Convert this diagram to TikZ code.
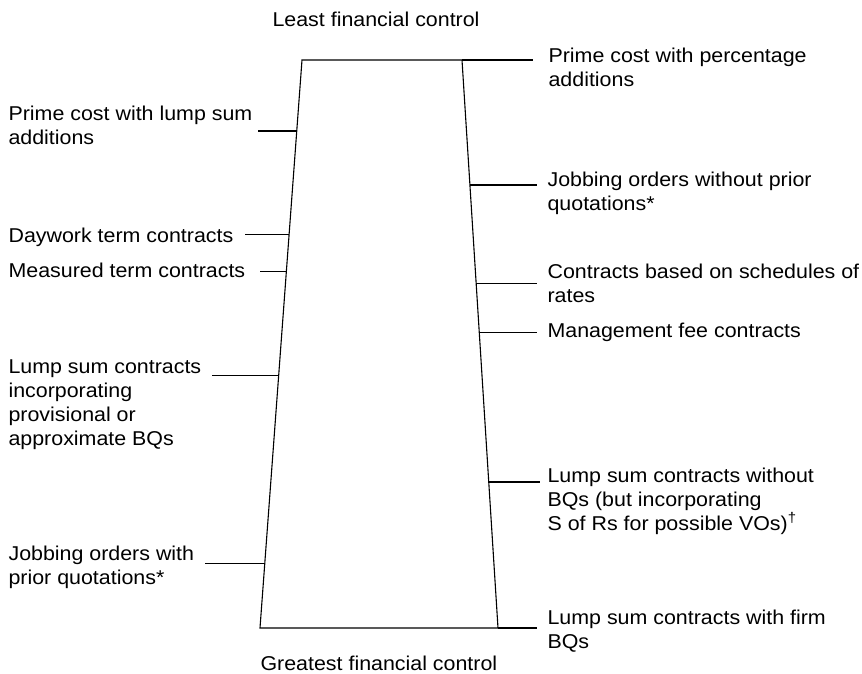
\documentclass[tikz,border=0pt]{standalone}
\usepackage{fontspec}
\setmainfont[FakeStretch=1.07]{Liberation Sans}
\usetikzlibrary{positioning,calc}

\begin{document}
\begin{tikzpicture}[x=1pt,y=-1pt,line width=1.1pt,
    lbl/.style={anchor=base west,inner sep=0pt,align=left,font=\fontsize{20}{24}\selectfont}]
    \useasboundingbox (0,0) rectangle (862,674);
    % corners of the control band
    \coordinate (TL) at (302,60);
    \coordinate (TR) at (462,60);
    \coordinate (BR) at (498,628);
    \coordinate (BL) at (260,628);
    \draw (TL) -- (TR) -- (BR) -- (BL) -- cycle;

    \node[lbl] (least) at (272,27) {Least financial control};
    \node[lbl] (great) at (260,670) {Greatest financial control};

    % left hand side (base = last line)
    \node[lbl] (L1) at (8,145) {Prime cost with lump sum\\additions};
    \node[lbl] (L2) at (8,242) {Daywork term contracts};
    \node[lbl] (L3) at (8,277) {Measured term contracts};
    \node[lbl] (L4) at (8,445) {Lump sum contracts\\incorporating\\provisional or\\approximate BQs};
    \node[lbl] (L5) at (8,584) {Jobbing orders with\\prior quotations*};
    \coordinate (l1) at ($(TL)!0.125!(BL)$);
    \coordinate (l2) at ($(TL)!0.308!(BL)$);
    \coordinate (l3) at ($(TL)!0.373!(BL)$);
    \coordinate (l4) at ($(TL)!0.555!(BL)$);
    \coordinate (l5) at ($(TL)!0.886!(BL)$);
    \draw
        (l1) -- (l1 -| 258,0)
        (l2) -- (l2 -| 245,0)
        (l3) -- (l3 -| 260,0)
        (l4) -- (l4 -| 212,0)
        (l5) -- (l5 -| 205,0);

    % right hand side
    \node[lbl] (R1) at (548,87) {Prime cost with percentage\\additions};
    \node[lbl] (R2) at (547,210) {Jobbing orders without prior\\quotations*};
    \node[lbl] (R3) at (547,302) {Contracts based on schedules of\\rates};
    \node[lbl] (R4) at (547,337) {Management fee contracts};
    \node[lbl] (R5) at (547,530) {Lump sum contracts without\\BQs (but incorporating\\S of Rs for possible VOs)\textsuperscript{\dag}};
    \node[lbl] (R6) at (547,648) {Lump sum contracts with firm\\BQs};
    \coordinate (r2) at ($(TR)!0.22!(BR)$);
    \coordinate (r3) at ($(TR)!0.393!(BR)$);
    \coordinate (r4) at ($(TR)!0.479!(BR)$);
    \coordinate (r5) at ($(TR)!0.743!(BR)$);
    \draw
        (TR) -- (TR -| 533,0)
        (r2) -- (r2 -| 537,0)
        (r3) -- (r3 -| 537,0)
        (r4) -- (r4 -| 537,0)
        (r5) -- (r5 -| 540,0)
        (BR) -- (BR -| 537,0);
\end{tikzpicture}
\end{document}
